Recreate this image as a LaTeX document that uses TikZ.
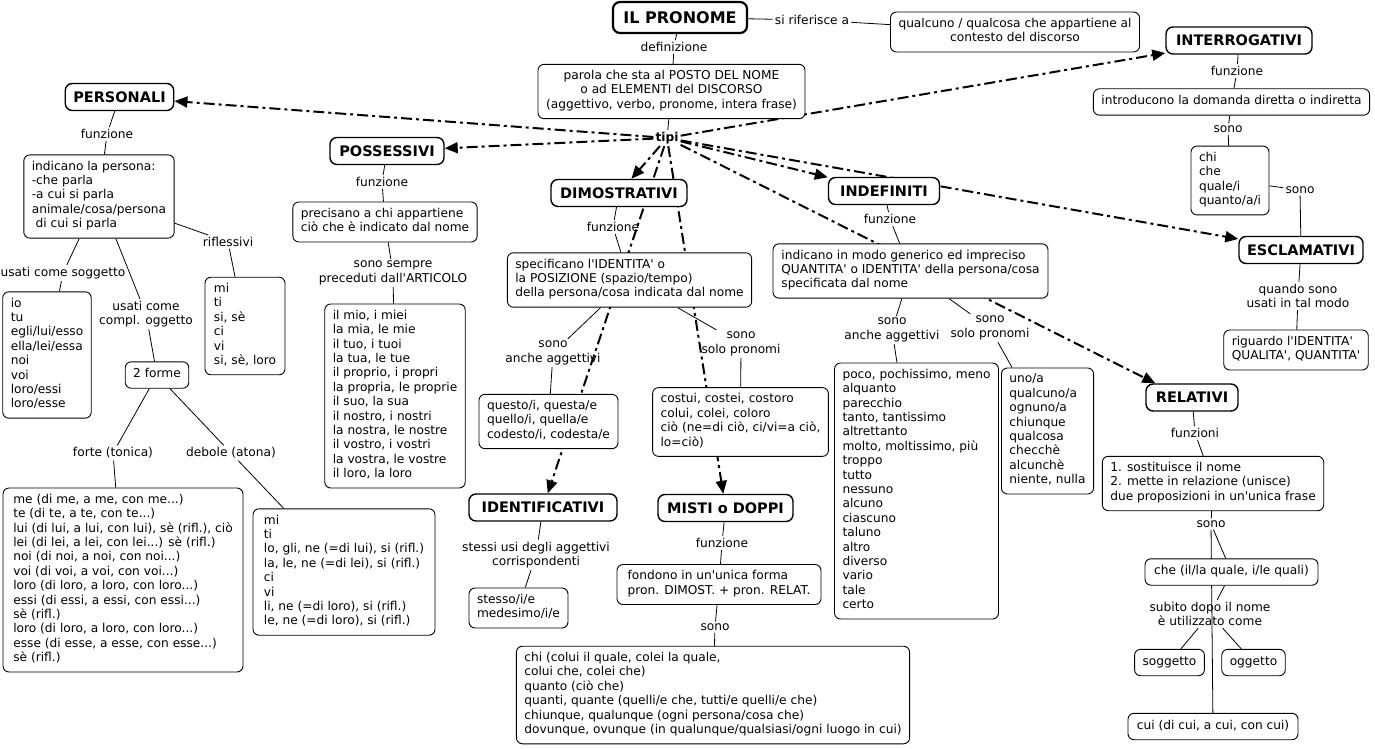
\documentclass[tikz,border=0pt]{standalone}
\usepackage{fontspec}
\newfontfamily\dv{DejaVu Sans}
\usetikzlibrary{arrows.meta,backgrounds,calc}
\newcommand\fs{\dv\fontsize{12.2}{14.4}\selectfont}
\newcommand\fb{\dv\fontsize{14.5}{16}\selectfont\bfseries}
\newcommand\fbig{\dv\fontsize{16}{18}\selectfont\bfseries}
\tikzset{
 box/.style={draw, line width=0.9pt, rounded corners=6pt, fill=white, inner xsep=8pt, inner ysep=6pt, align=left, font=\fs, execute at begin node=\strut, execute at end node=\strut},
 cbox/.style={box, align=center},
 concept/.style={draw, line width=1.4pt, rounded corners=7pt, fill=white, font=\fb, inner xsep=8pt, inner ysep=2pt, minimum height=27pt},
 lab/.style={font=\fs, align=center, inner sep=2pt},
 ln/.style={line width=0.8pt},
 tiparrow/.style={line width=2pt, dash pattern=on 11pt off 4pt on 3pt off 4pt, -{Triangle[length=13pt,width=11pt]}},
}
\begin{document}
\begin{tikzpicture}[x=1pt,y=-1pt]
\useasboundingbox (0,0) rectangle (1375,749);
% top
\node[concept, font=\fbig, line width=2.2pt, minimum width=134pt, minimum height=31pt] (pron) at (680,17.5) {IL PRONOME};
\node[lab] (rif) at (812,20) {si riferisce a};
\node[cbox, minimum width=245pt] (qual) at (1015,32) {qualcuno / qualcosa che appartiene al\\contesto del discorso};
\node[lab] (defn) at (674,47) {definizione};
\node[cbox, minimum width=267pt] (def) at (671.5,91.5) {parola che sta al POSTO DEL NOME\\o ad ELEMENTI del DISCORSO\\(aggettivo, verbo, pronome, intera frase)};
\node[lab, font=\fs\bfseries] (tipi) at (667,138) {tipi};
% interrogativi / esclamativi
\node[concept, minimum width=146pt] (interr) at (1239,40.5) {INTERROGATIVI};
\node[lab] (fzint) at (1237,71) {funzione};
\node[box, minimum width=271pt] (introd) at (1231.5,102) {introducono la domanda diretta o indiretta};
\node[lab] (sonoint) at (1228,129) {sono};
\node[box, minimum width=78pt] (chi) at (1230,180.5) {chi\\che\\quale/i\\quanto/a/i};
\node[lab] (sonoesc) at (1300,190) {sono};
\node[concept, minimum width=124pt] (escl) at (1301,250) {ESCLAMATIVI};
\node[lab] (quando) at (1298,296) {quando sono\\usati in tal modo};
\node[box, minimum width=143pt] (rig) at (1296,350) {riguardo l'IDENTITA'\\QUALITA', QUANTITA'};
% personali
\node[concept, minimum width=108pt] (pers) at (119.5,97) {PERSONALI};
\node[lab] (fzpers) at (107,134) {funzione};
\node[box, minimum width=148pt] (indpers) at (99,196.5) {indicano la persona:\\-che parla\\-a cui si parla\\animale/cosa/persona\\\ di cui si parla};
\node[lab] (rifl) at (228,242) {riflessivi};
\node[box, minimum width=80pt] (miti) at (245,326) {mi\\ti\\si, sè\\ci\\vi\\si, sè, loro};
\node[lab] (usog) at (63,273) {usati come soggetto};
\node[box, minimum width=88pt] (io) at (47,355) {io\\tu\\egli/lui/esso\\ella/lei/essa\\noi\\voi\\loro/essi\\loro/esse};
\node[lab] (ucomp) at (146,314) {usati come\\compl. oggetto};
\node[box, minimum width=63pt] (forme) at (157,375) {2 forme};
\node[lab] (forte) at (113,453) {forte (tonica)};
\node[lab] (debole) at (231,453) {debole (atona)};
\node[box, minimum width=240pt] (me) at (123,580) {me (di me, a me, con me...)\\te (di te, a te, con te...)\\lui (di lui, a lui, con lui), sè (rifl.), ciò\\lei (di lei, a lei, con lei...) sè (rifl.)\\noi (di noi, a noi, con noi...)\\voi (di voi, a voi, con voi...)\\loro (di loro, a loro, con loro...)\\essi (di essi, a essi, con essi...)\\sè (rifl.)\\loro (di loro, a loro, con loro...)\\esse (di esse, a esse, con esse...)\\sè (rifl.)};
\node[box, minimum width=182pt] (mitilo) at (344,572) {mi\\ti\\lo, gli, ne (=di lui), si (rifl.)\\la, le, ne (=di lei), si (rifl.)\\ci\\vi\\li, ne (=di loro), si (rifl.)\\le, ne (=di loro), si (rifl.)};
% possessivi
\node[concept, minimum width=114pt] (poss) at (387,151) {POSSESSIVI};
\node[lab] (fzposs) at (382,182) {funzione};
\node[box, minimum width=182pt] (prec) at (385,222) {precisano a chi appartiene\\ciò che è indicato dal nome};
\node[lab] (sempre) at (393,273) {sono sempre\\preceduti dall'ARTICOLO};
\node[box, minimum width=140pt] (ilmio) at (395,396) {il mio, i miei\\la mia, le mie\\il tuo, i tuoi\\la tua, le tue\\il proprio, i propri\\la propria, le proprie\\il suo, la sua\\il nostro, i nostri\\la nostra, le nostre\\il vostro, i vostri\\la vostra, le vostre\\il loro, la loro};
% dimostrativi
\node[concept, minimum width=136pt] (dim) at (619,193) {DIMOSTRATIVI};
\node[lab] (fzdim) at (613,227) {funzione};
\node[box, minimum width=241pt] (spec) at (629.5,280) {specificano l'IDENTITA' o\\la POSIZIONE (spazio/tempo)\\della persona/cosa indicata dal nome};
\node[lab] (anchedim) at (553,353) {sono\\anche aggettivi};
\node[lab] (solodim) at (741,344) {sono\\solo pronomi};
\node[box, minimum width=139pt] (questo) at (548.5,421.5) {questo/i, questa/e\\quello/i, quella/e\\codesto/i, codesta/e};
\node[box, minimum width=175pt] (costui) at (740.5,422) {costui, costei, costoro\\colui, colei, coloro\\ciò (ne=di ciò, ci/vi=a ciò,\\lo=ciò)};
\node[concept, minimum width=148pt] (ident) at (543,507.5) {IDENTIFICATIVI};
\node[lab] (stessi) at (536,555) {stessi usi degli aggettivi\\corrispondenti};
\node[box, minimum width=99pt] (stesso) at (518.5,608) {stesso/i/e\\medesimo/i/e};
\node[concept, minimum width=135pt] (misti) at (725.5,508) {MISTI o DOPPI};
\node[lab] (fzmisti) at (722,543) {funzione};
\node[box, minimum width=204pt] (fondono) at (719,584.5) {fondono in un'unica forma\\pron. DIMOST. + pron. RELAT.};
\node[lab] (sonomisti) at (715,627) {sono};
\node[box, minimum width=392pt] (chicolui) at (713,695) {chi (colui il quale, colei la quale,\\colui che, colei che)\\quanto (ciò che)\\quanti, quante (quelli/e che, tutti/e quelli/e che)\\chiunque, qualunque (ogni persona/cosa che)\\dovunque, ovunque (in qualunque/qualsiasi/ogni luogo in cui)};
% indefiniti
\node[concept, minimum width=111pt] (indef) at (884,191) {INDEFINITI};
\node[lab] (fzindef) at (890,219) {funzione};
\node[box, minimum width=275pt] (indgen) at (910.5,271) {indicano in modo generico ed impreciso\\QUANTITA' o IDENTITA' della persona/cosa\\specificata dal nome};
\node[lab] (ancheind) at (892,330) {sono\\anche aggettivi};
\node[lab] (soloind) at (990,328) {sono\\solo pronomi};
\node[box, minimum width=161pt] (poco) at (916.5,491) {poco, pochissimo, meno\\alquanto\\parecchio\\tanto, tantissimo\\altrettanto\\molto, moltissimo, più\\troppo\\tutto\\nessuno\\alcuno\\ciascuno\\taluno\\altro\\diverso\\vario\\tale\\certo};
\node[box, minimum width=91pt] (uno) at (1047.5,431) {uno/a\\qualcuno/a\\ognuno/a\\chiunque\\qualcosa\\checchè\\alcunchè\\niente, nulla};
% relativi
\node[concept, minimum width=92pt] (rel) at (1192,397.5) {RELATIVI};
\node[lab] (funzioni) at (1195,433) {funzioni};
\node[box, minimum width=218pt] (sost) at (1213,483.5) {1. sostituisce il nome\\2. mette in relazione (unisce)\\due proposizioni in un'unica frase};
\node[lab] (sonorel) at (1211,524) {sono};
\node[box, minimum width=173pt] (che) at (1231.5,572) {che (il/la quale, i/le quali)};
\node[lab] (subito) at (1210,614) {subito dopo il nome\\è utilizzato come};
\node[box, minimum width=69pt] (sogg) at (1169.5,662.5) {soggetto};
\node[box, minimum width=63pt] (ogg) at (1253.5,662.5) {oggetto};
\node[box, minimum width=170pt] (cui) at (1213,726.5) {cui (di cui, a cui, con cui)};
% connectors
\begin{pgfonlayer}{background}
\fill[white] (0,0) rectangle (1375,749);
\draw[ln] (rif) edge (pron) edge (qual);
\draw[ln] (defn) edge (pron) edge (def);
\draw[ln] (def) -- (tipi);
\draw[ln] (fzint) edge (interr) edge (introd);
\draw[ln] (sonoint) edge (introd) edge (chi);
\draw[ln] (sonoesc) edge (chi) edge (escl);
\draw[ln] (quando) edge (escl) edge (rig);
\draw[ln] (fzpers) edge (pers) edge (indpers);
\draw[ln] (rifl) edge (indpers) edge (miti);
\draw[ln] (usog) edge (indpers) edge (io);
\draw[ln] (ucomp) edge (indpers) edge (forme);
\draw[ln] (forte) edge (forme) edge (me);
\draw[ln] (debole) edge (forme) edge (mitilo);
\draw[ln] (fzposs) edge (poss) edge (prec);
\draw[ln] (sempre) edge (prec) edge (ilmio);
\draw[ln] (fzdim) edge (dim) edge (spec);
\draw[ln] (anchedim) edge (spec) edge (questo);
\draw[ln] (solodim) edge (spec) edge (costui);
\draw[ln] (stessi) edge (ident) edge (stesso);
\draw[ln] (fzmisti) edge (misti) edge (fondono);
\draw[ln] (sonomisti) edge (fondono) edge (chicolui);
\draw[ln] (fzindef) edge (indef) edge (indgen);
\draw[ln] (ancheind) edge (indgen) edge (poco);
\draw[ln] (soloind) edge (indgen) edge (uno);
\draw[ln] (funzioni) edge (rel) edge (sost);
\draw[ln] (sonorel) edge (sost) edge (che) edge (cui);
\draw[ln] (subito) edge (che) edge (sogg) edge (ogg);
\draw[tiparrow] (tipi) -- (pers);
\draw[tiparrow] (tipi) -- (poss);
\draw[tiparrow] (tipi) -- (dim);
\draw[tiparrow] (tipi) -- (ident);
\draw[tiparrow] (tipi) -- (misti);
\draw[tiparrow] (tipi) -- (indef);
\draw[tiparrow] (tipi) -- (escl);
\draw[tiparrow] (tipi) -- ($(rel.north west)+(10,0)$);
\draw[tiparrow] (tipi) -- (interr);
\end{pgfonlayer}
\end{tikzpicture}
\end{document}
